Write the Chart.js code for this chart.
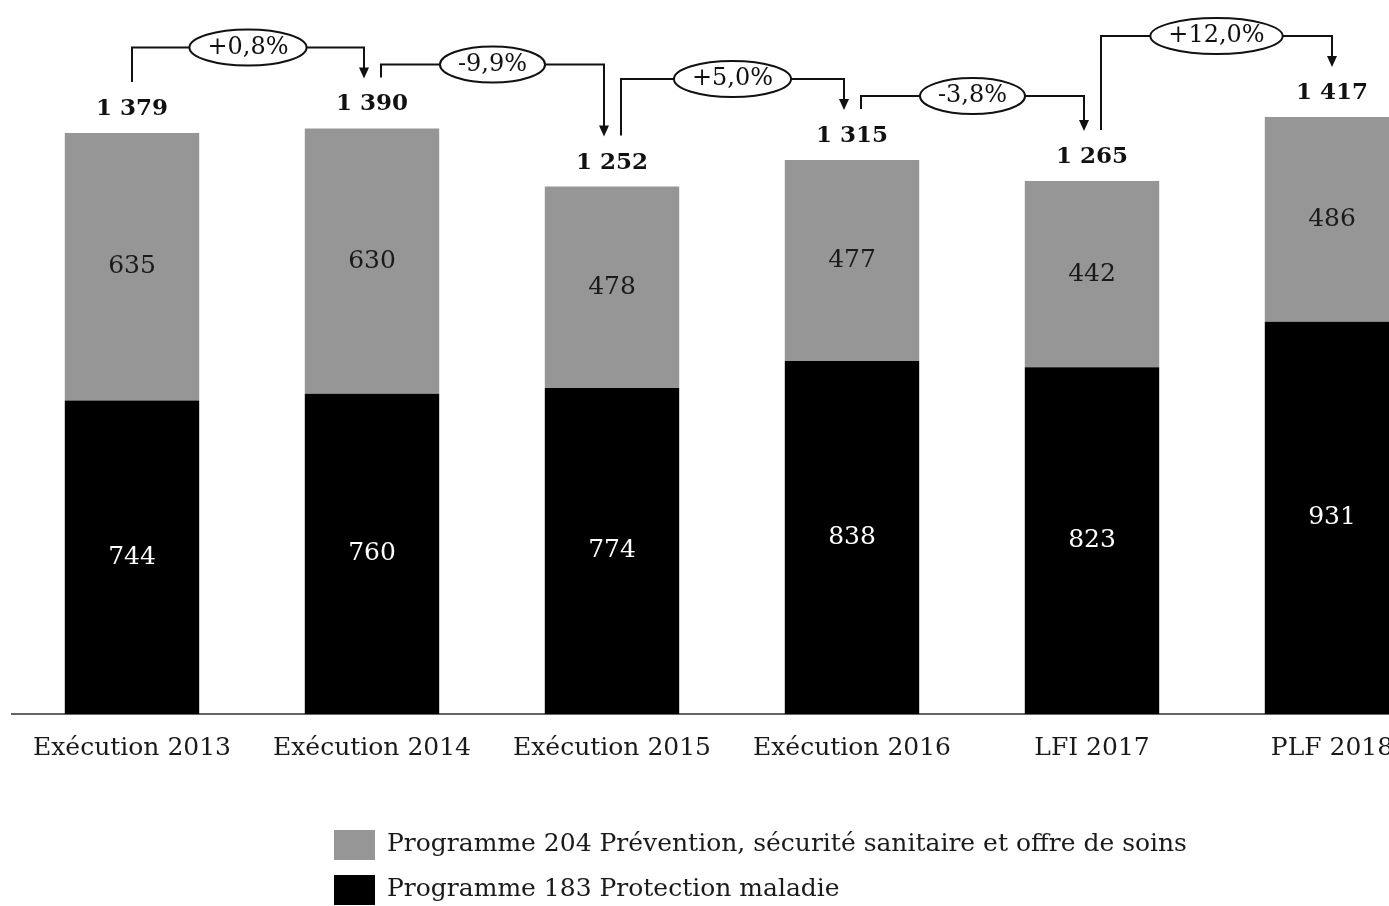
<!DOCTYPE html>
<html>
<head>
<meta charset="utf-8">
<script src="https://cdn.jsdelivr.net/npm/chart.js@4"></script>
<style>
  html, body { margin: 0; padding: 0; background: #fff; overflow: hidden; }
  #wrap { position: relative; width: 1389px; height: 906px; overflow: hidden; }
  .lg { position: absolute; left: 334px; font-family: "DejaVu Serif", serif; font-size: 25px; color: #1a1a1a; white-space: nowrap; }
  .lg span { display: inline-block; width: 41px; height: 30px; vertical-align: middle; margin-right: 12px; }
</style>
</head>
<body>
<div id="wrap">
  <canvas id="myChart" width="1452" height="906"></canvas>
  <div class="lg" style="top:828px"><span style="background:#969696"></span>Programme 204 Prévention, sécurité sanitaire et offre de soins</div>
  <div class="lg" style="top:873px"><span style="background:#000"></span>Programme 183 Protection maladie</div>
</div>
<script>
// data
const categories = ["Exécution 2013", "Exécution 2014", "Exécution 2015", "Exécution 2016", "LFI 2017", "PLF 2018"];
const programme183 = [744, 760, 774, 838, 823, 931];
const programme204 = [635, 630, 478, 477, 442, 486];
const changeLabels = ["+0,8%", "-9,9%", "+5,0%", "-3,8%", "+12,0%"];

const FONT = '"DejaVu Serif", serif';
const fmt = v => String(v).replace(/\B(?=(\d{3})+(?!\d))/g, " ");

const annotations = {
  id: "annotations",
  afterDatasetsDraw(chart) {
    const ctx = chart.ctx;
    const xs = chart.scales.x, ys = chart.scales.y;
    ctx.save();
    ctx.textAlign = "center";
    ctx.textBaseline = "middle";

    // values inside segments
    chart.data.datasets.forEach((ds, d) => {
      chart.getDatasetMeta(d).data.forEach((bar, i) => {
        ctx.fillStyle = d === 0 ? "#fff" : "#1a1a1a";
        ctx.font = "25px " + FONT;
        ctx.fillText(ds.data[i], bar.x, (bar.y + bar.base) / 2);
      });
    });

    // totals above bars
    const labelY = [];
    categories.forEach((c, i) => {
      const total = programme183[i] + programme204[i];
      const y = ys.getPixelForValue(total) - 24;
      labelY.push(y);
      ctx.fillStyle = "#111";
      ctx.font = "bold 23px " + FONT;
      ctx.fillText(fmt(total), xs.getPixelForValue(i), y);
    });

    // connectors with change ovals
    const last = categories.length - 1;
    changeLabels.forEach((txt, i) => {
      const x1 = xs.getPixelForValue(i) + (i === 0 ? 0 : 9);
      const x2 = xs.getPixelForValue(i + 1) - (i + 1 === last ? 0 : 8);
      const y1 = labelY[i] - 27;
      const y2 = labelY[i + 1] - 26;
      const lev = Math.min(labelY[i], labelY[i + 1]) - (i % 2 === 0 ? 57 : 40);
      ctx.strokeStyle = "#111";
      ctx.lineWidth = 2;
      ctx.beginPath();
      ctx.moveTo(x1, y1);
      ctx.lineTo(x1, lev);
      ctx.lineTo(x2, lev);
      ctx.lineTo(x2, y2 - 8);
      ctx.stroke();
      ctx.fillStyle = "#111";
      ctx.beginPath();
      ctx.moveTo(x2 - 5, y2 - 11);
      ctx.lineTo(x2 + 5, y2 - 11);
      ctx.lineTo(x2, y2);
      ctx.closePath();
      ctx.fill();

      ctx.font = "24px " + FONT;
      const w = ctx.measureText(txt).width;
      const cx = (x1 + x2) / 2;
      ctx.beginPath();
      ctx.ellipse(cx, lev, w / 2 + 18, 18, 0, 0, Math.PI * 2);
      ctx.fillStyle = "#fff";
      ctx.fill();
      ctx.stroke();
      ctx.fillStyle = "#111";
      ctx.fillText(txt, cx, lev);
    });
    ctx.restore();
  }
};

new Chart(document.getElementById("myChart").getContext("2d"), {
  type: "bar",
  data: {
    labels: categories,
    datasets: [
      { label: "Programme 183 Protection maladie", data: programme183, backgroundColor: "#000" },
      { label: "Programme 204 Prévention, sécurité sanitaire et offre de soins", data: programme204, backgroundColor: "#969696" }
    ]
  },
  options: {
    responsive: false,
    animation: false,
    layout: { padding: { left: 12, top: 40, right: 0, bottom: 0 } },
    datasets: { bar: { barPercentage: 0.56, categoryPercentage: 1 } },
    plugins: { legend: { display: false }, tooltip: { enabled: false } },
    scales: {
      x: {
        stacked: true,
        grid: { display: false, drawTicks: false },
        border: { display: true, color: "#666", width: 2 },
        ticks: { color: "#1a1a1a", padding: 19, font: { family: FONT, size: 25 }, maxRotation: 0 },
        afterFit: s => { s.height = 192; }
      },
      y: { stacked: true, display: false, min: 0, max: 1600 }
    }
  },
  plugins: [annotations]
});
</script>
</body>
</html>
